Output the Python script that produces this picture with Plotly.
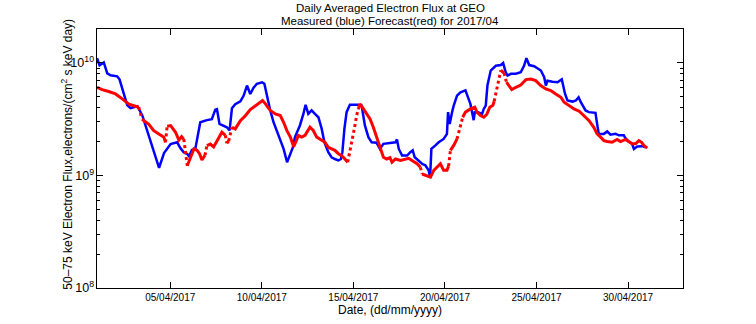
import numpy as np
import pandas as pd
import plotly.graph_objects as go

# ---------------- data ----------------
# day of April 2017 (fractional), flux in units of 1e9 electrons/(cm^2 s keV day)
blue_day = [1.00, 1.14, 1.37, 1.56, 1.74, 2.10, 2.23, 2.65, 2.83, 3.20,
            3.47, 3.83, 4.10, 4.39, 4.66, 5.02, 5.38, 5.55, 5.73, 5.93,
            6.03, 6.18, 6.37, 6.55, 6.64, 7.00, 7.27, 7.46, 7.55, 7.69,
            7.91, 8.09, 8.24, 8.37, 8.55, 8.83, 9.01, 9.19, 9.37, 9.55,
            9.73, 10.01, 10.14, 10.28, 10.46, 10.64, 10.92, 11.19, 11.38, 11.56,
            11.70, 11.81, 12.08, 12.27, 12.39, 12.54, 12.72, 12.90, 13.09, 13.27,
            13.42, 13.63, 13.81, 13.99, 14.18, 14.32, 14.40, 14.51, 14.63, 14.81,
            15.09, 15.27, 15.45, 15.55, 15.63, 15.82, 16.00, 16.27, 16.45, 16.64,
            17.30, 17.38, 17.48, 17.66, 17.93, 18.11, 18.24, 18.35, 18.57, 18.75,
            18.93, 19.11, 19.19, 19.26, 19.48, 19.66, 19.93, 20.11, 20.17, 20.26,
            20.39, 20.48, 20.66, 20.85, 21.12, 21.30, 21.39, 21.57, 21.63, 21.81,
            22.03, 22.12, 22.23, 22.32, 22.50, 22.78, 23.05, 23.18, 23.32, 23.42,
            23.60, 23.87, 24.14, 24.32, 24.45, 24.60, 24.87, 25.24, 25.42, 25.51,
            25.60, 25.87, 26.15, 26.38, 26.45, 26.56, 26.69, 26.97, 27.15, 27.30,
            27.42, 27.68, 27.86, 28.22, 28.31, 28.40, 28.68, 28.86, 29.04, 29.32,
            29.50, 29.77, 29.86, 30.04, 30.22, 30.32, 30.50, 30.77, 30.96]
blue_flux = [11.0, 9.52, 10.1, 8.08, 7.76, 7.60, 7.15, 4.21, 3.96, 4.12,
             3.43, 2.28, 1.61, 1.17, 1.58, 1.90, 1.97, 1.75, 1.61, 1.55,
             1.48, 1.68, 1.73, 2.42, 2.97, 3.10, 3.16, 3.84, 3.88, 2.87,
             2.78, 2.68, 2.51, 3.96, 4.29, 4.56, 5.12, 6.29, 5.29, 6.01,
             6.52, 6.73, 6.52, 5.12, 3.78, 2.97, 2.27, 1.72, 1.31, 1.56,
             1.78, 2.19, 2.78, 3.52, 4.24, 3.52, 3.78, 3.52, 3.29, 2.59,
             1.97, 1.61, 1.45, 1.40, 1.36, 1.40, 1.61, 2.59, 3.65, 4.24,
             4.27, 4.24, 4.18, 3.41, 2.78, 2.19, 1.97, 1.95, 1.72, 1.91,
             1.97, 2.09, 1.72, 1.50, 1.50, 1.61, 1.67, 1.45, 1.36, 1.27,
             1.23, 1.11, 0.966, 1.72, 1.85, 1.97, 2.11, 2.34, 3.65, 2.87,
             3.65, 4.18, 5.12, 5.48, 5.71, 4.78, 4.32, 3.10, 3.65, 3.65,
             3.52, 3.90, 4.18, 6.29, 8.55, 9.42, 9.56, 9.96, 8.25, 7.71,
             8.00, 8.00, 8.25, 9.42, 11.0, 9.56, 9.33, 8.55, 7.45, 6.29,
             6.94, 6.80, 6.73, 7.15, 6.42, 5.29, 4.63, 4.53, 4.63, 4.95,
             4.47, 3.78, 3.65, 3.60, 2.87, 2.34, 2.34, 2.46, 2.30, 2.34,
             2.27, 2.27, 2.14, 2.00, 1.91, 1.72, 1.81, 1.82, 1.78]

red_day = [1.00, 1.28, 1.64, 2.01, 2.38, 2.74, 3.10, 3.28, 3.46, 3.83,
           4.10, 4.38, 4.65, 4.74, 4.83, 5.02, 5.29, 5.47, 5.62, 5.74,
           5.84, 5.93, 6.11, 6.29, 6.45, 6.60, 6.73, 6.90, 7.00, 7.19,
           7.37, 7.55, 7.64, 7.82, 8.01, 8.09, 8.19, 8.37, 8.55, 8.83,
           9.10, 9.37, 9.64, 9.92, 10.04, 10.19, 10.28, 10.46, 10.74, 11.01,
           11.19, 11.37, 11.56, 11.74, 11.92, 11.99, 12.18, 12.36, 12.63, 12.81,
           13.00, 13.27, 13.45, 13.63, 13.81, 13.99, 14.18, 14.36, 14.54, 14.69,
           14.81, 14.91, 15.05, 15.18, 15.27, 15.36, 15.55, 15.73, 15.91, 16.09,
           16.27, 16.45, 16.64, 16.82, 17.00, 17.11, 17.30, 17.57, 17.84, 18.02,
           18.20, 18.48, 18.66, 18.75, 18.93, 19.21, 19.39, 19.57, 19.75, 19.93,
           20.11, 20.20, 20.30, 20.48, 20.66, 20.79, 20.90, 20.97, 21.12, 21.39,
           21.63, 21.75, 21.94, 22.12, 22.29, 22.45, 22.62, 22.69, 22.81, 22.92,
           23.05, 23.23, 23.36, 23.50, 23.65, 23.87, 24.14, 24.42, 24.69, 24.96,
           25.23, 25.51, 25.78, 26.05, 26.33, 26.51, 26.78, 27.05, 27.33, 27.58,
           27.86, 28.13, 28.31, 28.50, 28.68, 28.86, 29.13, 29.40, 29.59, 29.86,
           30.04, 30.22, 30.41, 30.59, 30.74, 30.86, 31.05]
red_flux = [6.07, 5.79, 5.57, 5.30, 4.79, 4.29, 4.12, 4.04, 3.16, 2.85,
            2.50, 2.33, 2.19, 1.97, 2.74, 2.77, 2.42, 2.06, 2.21, 2.10,
            1.61, 1.22, 1.48, 1.72, 1.68, 1.56, 1.37, 1.51, 1.84, 1.90,
            1.79, 2.00, 2.14, 2.42, 2.27, 1.93, 2.02, 2.68, 2.59, 3.06,
            3.39, 3.84, 4.16, 4.47, 4.63, 4.35, 4.18, 3.78, 3.52, 3.41,
            2.97, 2.50, 2.19, 1.80, 2.10, 2.27, 2.19, 2.27, 2.68, 2.51,
            2.19, 2.04, 1.97, 1.78, 1.72, 1.67, 1.56, 1.50, 1.40, 1.31,
            1.61, 1.97, 2.59, 3.41, 3.90, 4.32, 3.90, 3.52, 3.18, 2.68,
            2.19, 1.78, 1.45, 1.40, 1.44, 1.31, 1.40, 1.36, 1.40, 1.42,
            1.36, 1.27, 1.18, 1.03, 1.00, 0.966, 1.11, 1.18, 1.27, 1.11,
            1.11, 1.21, 1.67, 1.85, 2.11, 2.51, 2.87, 3.29, 3.65, 3.90,
            4.04, 3.65, 3.41, 3.29, 3.50, 4.04, 4.21, 4.56, 5.68, 7.19,
            8.60, 8.13, 6.73, 6.29, 5.79, 6.07, 6.36, 7.10, 7.19, 6.96,
            6.29, 5.87, 5.68, 5.29, 4.95, 4.47, 4.18, 3.90, 3.72, 3.41,
            3.08, 2.68, 2.34, 2.19, 2.04, 2.00, 1.97, 2.09, 2.00, 2.09,
            2.00, 1.91, 1.91, 2.04, 1.97, 1.85, 1.75]

x_tick_days = [5, 10, 15, 20, 25, 30]
FLUX_UNIT = 1e9

# ---------------- helpers ----------------
START = pd.Timestamp("2017-04-01")


def to_dt(days):
    return [START + pd.Timedelta(days=d - 1) for d in days]


bx = to_dt(blue_day)
by = [v * FLUX_UNIT for v in blue_flux]
rx = to_dt(red_day)
ry = [v * FLUX_UNIT for v in red_flux]

# split the forecast into smooth parts (solid) and fast jumps (dotted look)
lg = np.log10(ry)
steep = [abs(lg[i + 1] - lg[i]) / (red_day[i + 1] - red_day[i]) > 0.52
         for i in range(len(ry) - 1)]
seg = {True: ([], []), False: ([], [])}
last = {True: None, False: None}
for i, f in enumerate(steep):
    xs, ys = seg[f]
    if last[f] != i:
        if xs:
            xs.append(None)
            ys.append(None)
        xs.append(rx[i])
        ys.append(ry[i])
    xs.append(rx[i + 1])
    ys.append(ry[i + 1])
    last[f] = i + 1

FONT = "Liberation Sans, Arial, Helvetica, sans-serif"

fig = go.Figure()
fig.add_trace(go.Scatter(x=bx, y=by, mode="lines",
                         line=dict(color="#0000ff", width=2.5),
                         hoverinfo="skip", showlegend=False))
fig.add_trace(go.Scatter(x=seg[False][0], y=seg[False][1], mode="lines",
                         line=dict(color="#ff0000", width=3),
                         connectgaps=False, hoverinfo="skip", showlegend=False))
fig.add_trace(go.Scatter(x=seg[True][0], y=seg[True][1], mode="lines",
                         line=dict(color="#ff0000", width=3, dash="dot"),
                         connectgaps=False, hoverinfo="skip", showlegend=False))

fig.update_layout(
    width=756, height=324,
    margin=dict(l=97, r=73, t=29, b=36, pad=0),
    paper_bgcolor="white", plot_bgcolor="white",
    font=dict(family=FONT, color="black"),
    showlegend=False,
    xaxis=dict(
        type="date",
        range=[START, START + pd.Timedelta(days=32)],
        tickmode="array",
        tickvals=to_dt(x_tick_days),
        tickformat="%d/%m/%Y",
        ticks="inside", ticklen=6, tickwidth=1, tickcolor="black",
        showline=True, linecolor="black", linewidth=1, mirror="allticks",
        showgrid=False, zeroline=False,
        tickfont=dict(size=10, family=FONT, color="black"),
    ),
    yaxis=dict(
        type="log",
        range=[8, np.log10(2e10)],
        tick0=0, dtick=1,
        exponentformat="power", showexponent="all",
        ticks="inside", ticklen=6, tickwidth=1, tickcolor="black",
        minor=dict(ticks="inside", ticklen=3, tickcolor="black", dtick="D1", showgrid=False),
        showline=True, linecolor="black", linewidth=1, mirror="allticks",
        showgrid=False, zeroline=False,
        tickfont=dict(size=10, family=FONT, color="black"),
    ),
    annotations=[
        dict(text="Daily Averaged Electron Flux at GEO", x=0.5, y=1 + 21.5 / 259,
             xref="paper", yref="paper", xanchor="center", yanchor="middle",
             showarrow=False, font=dict(size=11.5, family=FONT, color="black")),
        dict(text="Measured (blue) Forecast(red) for 2017/04", x=0.5, y=1 + 8 / 259,
             xref="paper", yref="paper", xanchor="center", yanchor="middle",
             showarrow=False, font=dict(size=11.5, family=FONT, color="black")),
        dict(text="Date, (dd/mm/yyyy)", x=0.5, y=-22 / 259,
             xref="paper", yref="paper", xanchor="center", yanchor="middle",
             showarrow=False, font=dict(size=12, family=FONT, color="black")),
        dict(text="50–75 keV Electron Flux,electrons/(cm<sup>2</sup> s keV day)",
             x=(66.7 - 97) / 586, y=(288 - 154) / 259, textangle=-90,
             xref="paper", yref="paper", xanchor="center", yanchor="middle",
             showarrow=False, font=dict(size=12, family=FONT, color="black")),
    ],
)

fig.write_html("out.html")
